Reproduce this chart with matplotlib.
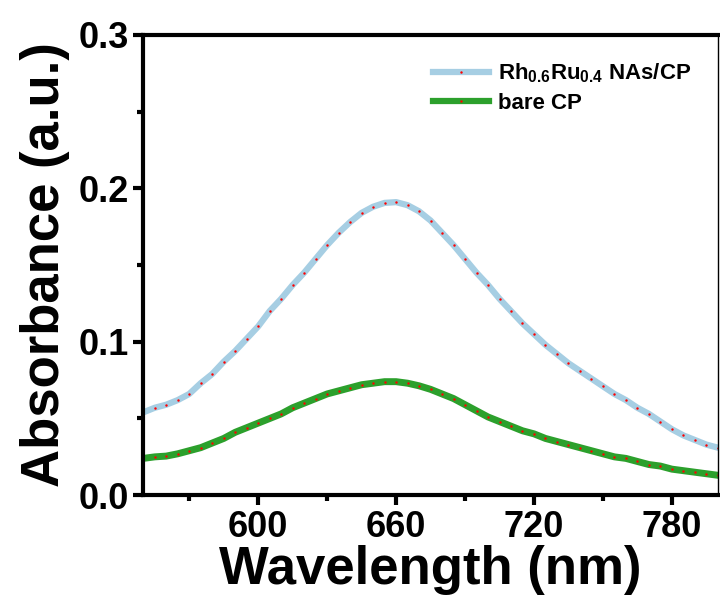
import matplotlib
matplotlib.use('Agg')
import matplotlib.pyplot as plt
from matplotlib.ticker import MultipleLocator

plt.rcParams['font.family'] = ['Liberation Sans', 'DejaVu Sans']
plt.rcParams['font.weight'] = 'bold'
plt.rcParams['mathtext.fontset'] = 'custom'
plt.rcParams['mathtext.rm'] = 'Liberation Sans:bold'
plt.rcParams['mathtext.bf'] = 'Liberation Sans:bold'

wavelength = list(range(550, 801, 5))

rhru = [0.054, 0.057, 0.059, 0.062, 0.066, 0.073, 0.079, 0.087, 0.094, 0.102,
        0.110, 0.120, 0.128, 0.137, 0.145, 0.154, 0.163, 0.171, 0.178, 0.184,
        0.188, 0.1905, 0.191, 0.189, 0.185, 0.179, 0.171, 0.163, 0.154, 0.145,
        0.137, 0.128, 0.120, 0.112, 0.105, 0.098, 0.092, 0.086, 0.081, 0.076,
        0.071, 0.066, 0.062, 0.057, 0.053, 0.048, 0.043, 0.039, 0.036, 0.033,
        0.031]

bare = [0.024, 0.025, 0.0255, 0.027, 0.029, 0.031, 0.034, 0.037, 0.041, 0.044,
        0.047, 0.050, 0.053, 0.057, 0.060, 0.063, 0.066, 0.068, 0.070, 0.072,
        0.073, 0.074, 0.074, 0.073, 0.0713, 0.069, 0.066, 0.063, 0.059, 0.055,
        0.051, 0.048, 0.045, 0.042, 0.040, 0.037, 0.035, 0.033, 0.031, 0.029,
        0.027, 0.025, 0.024, 0.022, 0.020, 0.019, 0.017, 0.016, 0.015, 0.014,
        0.013]

fig = plt.figure(figsize=(7.2, 6.01), dpi=100)
ax = fig.add_axes([0.199, 0.176, 0.798, 0.766])

ax.plot(wavelength, rhru, color='#a6cee3', linewidth=4.5, marker='.',
        markersize=1.5, markerfacecolor='red', markeredgecolor='red',
        label=r'Rh$_{\mathbf{0.6}}$Ru$_{\mathbf{0.4}}$ NAs/CP')
ax.plot(wavelength, bare, color='#2ca02c', linewidth=5, marker='.',
        markersize=1.5, markerfacecolor='red', markeredgecolor='red',
        label='bare CP')

ax.set_xlim(550, 800)
ax.set_ylim(0, 0.3)
ax.set_xticks([600, 660, 720, 780])
ax.set_xticks([570, 630, 690, 750], minor=True)
ax.yaxis.set_major_locator(MultipleLocator(0.1))
ax.yaxis.set_minor_locator(MultipleLocator(0.05))

for s in ['left', 'bottom', 'top']:
    ax.spines[s].set_linewidth(3)
ax.spines['right'].set_linewidth(1)

ax.tick_params(which='major', direction='out', length=7, width=3,
               labelsize=26, top=False, right=False)
ax.tick_params(which='minor', direction='out', length=4, width=3,
               top=False, right=False)
for lbl in ax.get_xticklabels() + ax.get_yticklabels():
    lbl.set_fontweight('bold')

ax.set_xlabel('Wavelength (nm)', fontsize=38, fontweight='bold', labelpad=0)
ax.set_ylabel('Absorbance (a.u.)', fontsize=38, fontweight='bold', labelpad=6)

leg = ax.legend(loc='upper right', frameon=False, fontsize=16,
                handlelength=2.5, borderaxespad=0.8, labelspacing=0.35,
                handletextpad=0.4)
for t in leg.get_texts():
    t.set_fontweight('bold')
for h in leg.get_lines():
    h.set_linewidth(4.5)

fig.savefig('out.png', dpi=100)
